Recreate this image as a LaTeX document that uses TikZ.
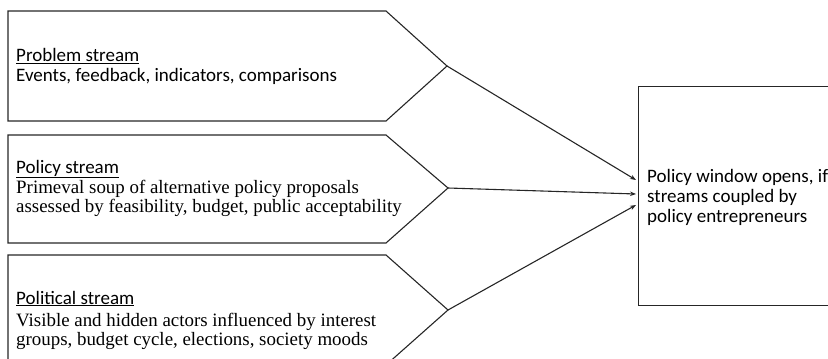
\documentclass[tikz,border=0pt]{standalone}
\usepackage{fontspec}
\setmainfont{Liberation Serif}
\setsansfont{Carlito}
\usetikzlibrary{arrows.meta}
\begin{document}
\begin{tikzpicture}[x=1pt,y=-1pt,
  streambox/.style={draw=black!85,line width=1.1pt,line join=miter},
  conn/.style={draw=black!85,line width=1.1pt,-{Stealth[length=6pt,width=4.5pt]}},
  lbl/.style={anchor=base west,inner sep=0pt,font=\sffamily\fontsize{19}{20}\selectfont},
  body/.style={anchor=base west,inner sep=0pt,align=left,font=\fontsize{18.9}{18.7}\selectfont},
  bodysf/.style={anchor=base west,inner sep=0pt,align=left,font=\sffamily\fontsize{19}{20}\selectfont}]
\useasboundingbox (0,0) rectangle (828,359);
\clip (0,0) rectangle (828,359);
% stream shapes
\draw[streambox] (8,11) -- (386,11) -- (447,66) coordinate (tip1) -- (386,121) -- (8,121) -- cycle;
\draw[streambox] (8,135) -- (386,135) -- (448,188) coordinate (tip2) -- (386,243) -- (8,243) -- cycle;
\draw[streambox] (8,255) -- (386,255) -- (448,310) coordinate (tip3) -- (386,365) -- (8,365) -- cycle;
% texts
\node[lbl] (t1) at (16,61.5) {\underline{Problem stream}};
\node[bodysf] (b1) at (16,81) {Events, feedback, indicators, comparisons};
\node[lbl] (t2) at (16,173) {\underline{Policy stream}};
\node[body] (b2) at (16,212.5) {Primeval soup of alternative policy proposals\\assessed by feasibility, budget, public acceptability};
\node[lbl] (t3) at (16,304) {\underline{Political stream}};
\node[body] (b3) at (16,345) {Visible and hidden actors influenced by interest\\groups, budget cycle, elections, society moods};
% window box
\node[draw=black!85,line width=1.1pt,anchor=north west,minimum width=260pt,minimum height=219pt,inner sep=0pt] (win) at (638,86) {};
\node[bodysf] (wt) at (647,222) {Policy window opens, if\\streams coupled by\\policy entrepreneurs};
\coordinate (e1) at (636,180);
\coordinate (e2) at (636,194);
\coordinate (e3) at (636,205);
\draw[conn] (tip1) -- (e1);
\draw[conn] (tip2) -- (e2);
\draw[conn] (tip3) -- (e3);
\end{tikzpicture}
\end{document}
